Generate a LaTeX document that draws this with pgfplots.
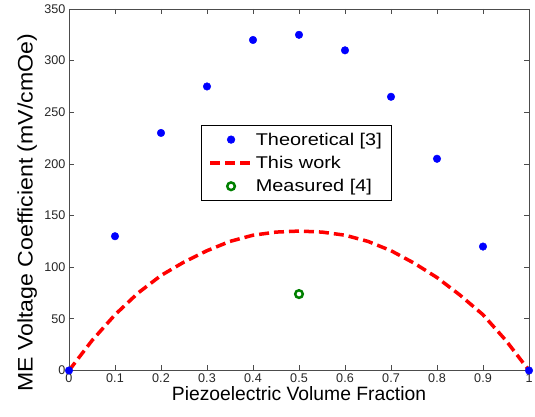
\documentclass[border=0pt]{standalone}
\usepackage{fontspec}
\setmainfont{Liberation Sans}
\newfontfamily\legfont[FakeStretch=1.17]{Liberation Sans}
\newfontfamily\ylabfont[FakeStretch=1.1]{Liberation Sans}
\usepackage{pgfplots}
\pgfplotsset{compat=1.18}

\begin{document}
\begin{tikzpicture}
\begin{axis}[
    scale only axis,
    width=460pt, height=361.5pt,
    xmin=0, xmax=1, ymin=0, ymax=350,
    xtick={0,0.1,...,1.0},
    xticklabels={0,0.1,0.2,0.3,0.4,0.5,0.6,0.7,0.8,0.9,1},
    ytick={0,50,...,350},
    tick align=inside,
    major tick length=5pt,
    axis line style={draw=black!70, line width=0.8pt},
    every tick/.style={black!70, line width=0.8pt},
    tick label style={font=\fontsize{12.6}{14}\selectfont, text=black!85},
    /pgf/number format/assume math mode=true,
    xlabel={Piezoelectric Volume Fraction},
    ylabel={\ylabfont ME Voltage Coefficient (mV/cmOe)},
    xlabel style={font=\fontsize{19.3}{22}\selectfont,
        at={(axis description cs:0.5,-0.0636)}, anchor=center},
    ylabel style={font=\fontsize{21}{24}\selectfont,
        at={(axis description cs:-0.091,0.436)}, anchor=center},
    clip=false,
    legend cell align=left,
    legend image code/.code={%
        \draw[mark repeat=2,mark phase=2,#1]
        plot coordinates {(0pt,0pt) (21pt,0pt) (42pt,0pt)};},
    legend style={at={(0.287,0.678)}, anchor=north west,
        font=\legfont\fontsize{17}{20}\selectfont, draw=black, line width=0.6pt,
        inner xsep=7pt, inner ysep=5pt, row sep=5.5pt,
        nodes={inner sep=2pt}},
]
\addplot[only marks, mark=*, mark size=3.8pt, color=blue] coordinates {
    (0,0) (0.1,130) (0.2,230) (0.3,275) (0.4,320) (0.5,325)
    (0.6,310) (0.7,265) (0.8,205) (0.9,120) (1,0)
};
\addlegendentry{Theoretical [3]}
\addplot[color=red, line width=3.5pt, dash pattern=on 10pt off 5pt] coordinates {
    (0,0) (0.05,29) (0.1,54) (0.15,75) (0.2,92) (0.25,105) (0.3,116)
    (0.35,125) (0.4,131) (0.45,134) (0.5,135) (0.55,134) (0.6,131)
    (0.65,125) (0.7,116) (0.75,104) (0.8,90) (0.85,73) (0.9,54)
    (0.95,29) (1,0)
};
\addlegendentry{This work\vphantom{[}}
\addplot[only marks, mark=o, mark size=3.8pt, color=green!50!black, line width=2.5pt] coordinates {
    (0.5,74)
};
\addlegendentry{Measured [4]}
\end{axis}
\pgfresetboundingbox
\useasboundingbox ([shift={(-69pt,-46.5pt)}]current axis.south west)
    rectangle ([shift={(6pt,9pt)}]current axis.north east);
\end{tikzpicture}
\end{document}
